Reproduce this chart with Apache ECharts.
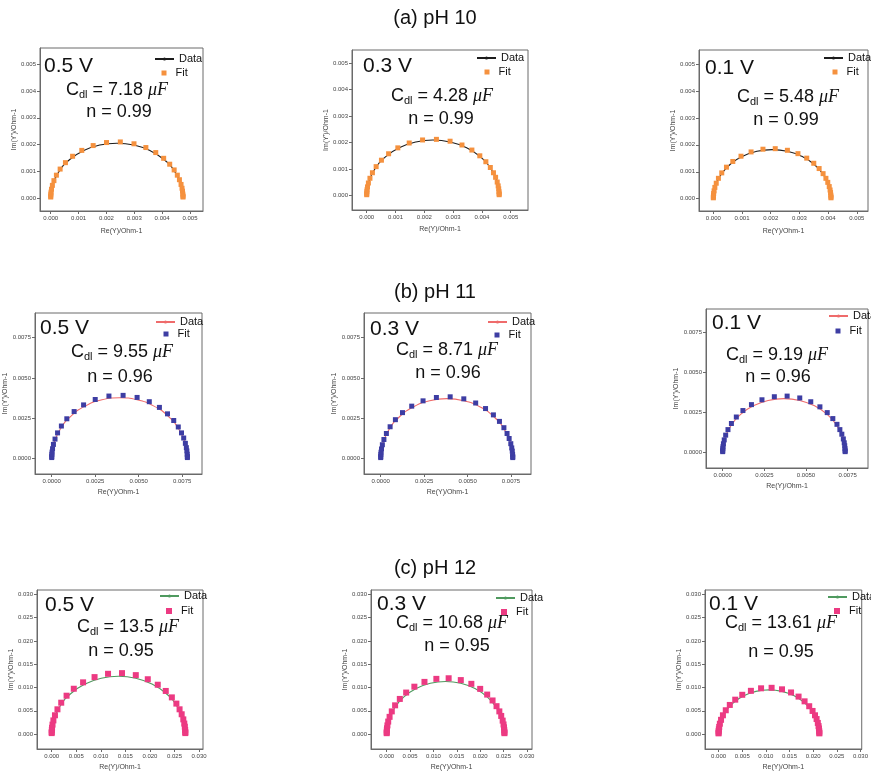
<!DOCTYPE html>
<html><head><meta charset="utf-8">
<script src="https://cdn.jsdelivr.net/npm/echarts@6/dist/echarts.min.js"></script>
<style>html,body{margin:0;padding:0;background:#fff}#c{width:871px;height:772px}</style>
</head><body><div id="c"></div>
<script>
// ---- values, in 10^-3 Ohm^-1 (mS) ----
const a05DataRe = [0, 0.009, 0.081, 0.318, 0.695, 1.188, 1.760, 2.375, 2.990, 3.563, 4.055, 4.432, 4.669, 4.741, 4.750];
const a05DataIm = [0, 0.179, 0.531, 1.025, 1.450, 1.775, 1.980, 2.050, 1.980, 1.775, 1.450, 1.025, 0.531, 0.179, 0];
const a05FitRe = [0.0004, 0.0014, 0.0057, 0.0128, 0.0295, 0.0608, 0.116, 0.205, 0.339, 0.529, 0.786, 1.116, 1.524, 2.004, 2.499, 2.990, 3.416, 3.771, 4.055, 4.272, 4.432, 4.545, 4.621, 4.679, 4.714, 4.732, 4.744, 4.749, 4.750];
const a05FitIm = [0.037, 0.073, 0.147, 0.219, 0.328, 0.473, 0.649, 0.854, 1.082, 1.322, 1.561, 1.781, 1.961, 2.074, 2.097, 2.028, 1.887, 1.699, 1.485, 1.264, 1.050, 0.854, 0.684, 0.508, 0.365, 0.256, 0.147, 0.073, 0.037];

const a03DataRe = [0, 0.009, 0.078, 0.308, 0.673, 1.150, 1.705, 2.300, 2.895, 3.450, 3.927, 4.292, 4.522, 4.591, 4.600];
const a03DataIm = [0, 0.183, 0.543, 1.050, 1.485, 1.819, 2.028, 2.100, 2.028, 1.819, 1.485, 1.050, 0.543, 0.183, 0];
const a03FitRe = [0.0004, 0.0014, 0.0055, 0.0124, 0.0285, 0.0589, 0.113, 0.199, 0.328, 0.512, 0.761, 1.081, 1.476, 1.940, 2.421, 2.895, 3.308, 3.652, 3.927, 4.137, 4.292, 4.401, 4.475, 4.531, 4.565, 4.583, 4.594, 4.599, 4.600];
const a03FitIm = [0.037, 0.074, 0.149, 0.223, 0.333, 0.479, 0.658, 0.866, 1.097, 1.340, 1.583, 1.806, 1.989, 2.104, 2.127, 2.057, 1.914, 1.723, 1.506, 1.282, 1.065, 0.866, 0.694, 0.515, 0.370, 0.260, 0.149, 0.074, 0.037];

const a01DataRe = [0, 0.008, 0.070, 0.275, 0.600, 1.025, 1.519, 2.050, 2.581, 3.075, 3.500, 3.825, 4.030, 4.092, 4.100];
const a01DataIm = [0, 0.159, 0.471, 0.910, 1.287, 1.576, 1.758, 1.820, 1.758, 1.576, 1.287, 0.910, 0.471, 0.159, 0];
const a01FitRe = [0.0003, 0.0012, 0.0049, 0.0111, 0.0254, 0.0525, 0.101, 0.177, 0.293, 0.457, 0.678, 0.964, 1.315, 1.729, 2.157, 2.581, 2.949, 3.255, 3.500, 3.687, 3.825, 3.923, 3.988, 4.039, 4.069, 4.085, 4.095, 4.099, 4.100];
const a01FitIm = [0.033, 0.065, 0.130, 0.194, 0.291, 0.419, 0.575, 0.756, 0.958, 1.170, 1.382, 1.577, 1.736, 1.837, 1.857, 1.797, 1.672, 1.505, 1.315, 1.119, 0.930, 0.756, 0.606, 0.450, 0.323, 0.227, 0.130, 0.065, 0.033];

const b05DataRe = [0, 0.015, 0.133, 0.523, 1.142, 1.950, 2.891, 3.900, 4.909, 5.850, 6.658, 7.277, 7.667, 7.785, 7.800];
const b05DataIm = [0, 0.330, 0.978, 1.890, 2.673, 3.273, 3.651, 3.780, 3.651, 3.273, 2.673, 1.890, 0.978, 0.330, 0];
const b05FitRe = [0.0006, 0.0023, 0.0094, 0.0211, 0.0484, 0.100, 0.191, 0.337, 0.557, 0.869, 1.290, 1.833, 2.502, 3.290, 4.104, 4.909, 5.610, 6.192, 6.658, 7.015, 7.277, 7.463, 7.588, 7.684, 7.741, 7.771, 7.791, 7.798, 7.800];
const b05FitIm = [0.069, 0.137, 0.274, 0.411, 0.615, 0.884, 1.214, 1.598, 2.024, 2.473, 2.920, 3.333, 3.669, 3.882, 3.924, 3.796, 3.532, 3.179, 2.779, 2.365, 1.965, 1.598, 1.280, 0.951, 0.682, 0.479, 0.274, 0.137, 0.069];

const b03DataRe = [0, 0.014, 0.129, 0.509, 1.113, 1.900, 2.817, 3.800, 4.783, 5.700, 6.487, 7.091, 7.471, 7.586, 7.600];
const b03DataIm = [0, 0.324, 0.963, 1.860, 2.630, 3.222, 3.593, 3.720, 3.593, 3.222, 2.630, 1.860, 0.963, 0.324, 0];
const b03FitRe = [0.0006, 0.0023, 0.0091, 0.0205, 0.0471, 0.0973, 0.186, 0.328, 0.543, 0.847, 1.257, 1.786, 2.438, 3.206, 3.999, 4.783, 5.466, 6.034, 6.487, 6.835, 7.091, 7.272, 7.393, 7.487, 7.542, 7.572, 7.591, 7.598, 7.600];
const b03FitIm = [0.067, 0.134, 0.268, 0.401, 0.601, 0.864, 1.187, 1.562, 1.978, 2.417, 2.854, 3.256, 3.585, 3.793, 3.835, 3.709, 3.451, 3.107, 2.715, 2.311, 1.920, 1.562, 1.250, 0.929, 0.667, 0.468, 0.268, 0.134, 0.067];

const b01DataRe = [0, 0.014, 0.125, 0.492, 1.076, 1.838, 2.724, 3.675, 4.626, 5.513, 6.274, 6.858, 7.225, 7.336, 7.350];
const b01DataIm = [0, 0.295, 0.875, 1.690, 2.390, 2.927, 3.265, 3.380, 3.265, 2.927, 2.390, 1.690, 0.875, 0.295, 0];
const b01FitRe = [0.0006, 0.0022, 0.0088, 0.0198, 0.0456, 0.0941, 0.180, 0.318, 0.525, 0.819, 1.216, 1.727, 2.358, 3.100, 3.868, 4.626, 5.286, 5.835, 6.274, 6.610, 6.858, 7.032, 7.150, 7.240, 7.294, 7.323, 7.341, 7.348, 7.350];
const b01FitIm = [0.062, 0.124, 0.247, 0.370, 0.554, 0.797, 1.094, 1.440, 1.823, 2.228, 2.631, 3.002, 3.305, 3.496, 3.535, 3.419, 3.182, 2.864, 2.503, 2.130, 1.770, 1.440, 1.153, 0.856, 0.615, 0.432, 0.247, 0.124, 0.062];

const c05DataRe = [0, 0.052, 0.462, 1.822, 3.982, 6.80, 10.08, 13.60, 17.12, 20.40, 23.22, 25.38, 26.74, 27.15, 27.20];
const c05DataIm = [0, 1.081, 3.209, 6.200, 8.768, 10.738, 11.977, 12.400, 11.977, 10.738, 8.768, 6.200, 3.209, 1.081, 0];
const c05FitRe = [0.002, 0.008, 0.033, 0.073, 0.169, 0.348, 0.666, 1.175, 1.942, 3.030, 4.499, 6.392, 8.726, 11.47, 14.31, 17.12, 19.56, 21.59, 23.22, 24.46, 25.38, 26.03, 26.46, 26.79, 26.99, 27.10, 27.17, 27.19, 27.20];
const c05FitIm = [0.229, 0.457, 0.914, 1.369, 2.049, 2.948, 4.048, 5.328, 6.747, 8.244, 9.735, 11.109, 12.230, 12.939, 13.082, 12.653, 11.774, 10.598, 9.263, 7.884, 6.550, 5.328, 4.265, 3.169, 2.274, 1.597, 0.914, 0.457, 0.229];

const c03DataRe = [0, 0.048, 0.428, 1.688, 3.689, 6.300, 9.339, 12.60, 15.86, 18.90, 21.51, 23.51, 24.77, 25.15, 25.20];
const c03DataIm = [0, 0.985, 2.924, 5.650, 7.990, 9.786, 10.915, 11.300, 10.915, 9.786, 7.990, 5.650, 2.924, 0.985, 0];
const c03FitRe = [0.002, 0.008, 0.030, 0.068, 0.156, 0.323, 0.617, 1.089, 1.799, 2.807, 4.168, 5.922, 8.084, 10.63, 13.26, 15.86, 18.12, 20.01, 21.51, 22.66, 23.51, 24.11, 24.51, 24.82, 25.01, 25.11, 25.17, 25.19, 25.20];
const c03FitIm = [0.210, 0.419, 0.838, 1.254, 1.877, 2.700, 3.708, 4.880, 6.180, 7.552, 8.917, 10.176, 11.203, 11.852, 11.983, 11.591, 10.786, 9.708, 8.485, 7.222, 6.000, 4.880, 3.907, 2.903, 2.083, 1.463, 0.838, 0.419, 0.210];

const c01DataRe = [0, 0.040, 0.362, 1.427, 3.118, 5.325, 7.894, 10.65, 13.41, 15.98, 18.18, 19.87, 20.94, 21.26, 21.30];
const c01DataIm = [0, 0.828, 2.459, 4.750, 6.717, 8.227, 9.176, 9.500, 9.176, 8.227, 6.717, 4.750, 2.459, 0.828, 0];
const c01FitRe = [0.002, 0.006, 0.026, 0.058, 0.132, 0.273, 0.522, 0.920, 1.521, 2.373, 3.523, 5.006, 6.833, 8.984, 11.21, 13.41, 15.32, 16.91, 18.18, 19.16, 19.87, 20.38, 20.72, 20.98, 21.14, 21.22, 21.27, 21.29, 21.30];
const c01FitIm = [0.174, 0.347, 0.695, 1.040, 1.556, 2.239, 3.075, 4.047, 5.124, 6.262, 7.394, 8.438, 9.289, 9.828, 9.936, 9.611, 8.943, 8.050, 7.036, 5.988, 4.975, 4.047, 3.240, 2.407, 1.727, 1.213, 0.695, 0.347, 0.174];

// tick values (Ohm^-1)
const ticksA = [0, 0.001, 0.002, 0.003, 0.004, 0.005];
const ticksB = [0, 0.0025, 0.005, 0.0075];
const ticksC = [0, 0.005, 0.010, 0.015, 0.020, 0.025, 0.030];

const rowTitles = ['(a) pH 10', '(b) pH 11', '(c) pH 12'];
const voltages = ['0.5 V', '0.3 V', '0.1 V'];
const cdlValues = ['7.18', '4.28', '5.48', '9.55', '8.71', '9.19', '13.5', '10.68', '13.61'];
const nValues = ['0.99', '0.99', '0.99', '0.96', '0.96', '0.96', '0.95', '0.95', '0.95'];

const MS = 1e-3; // mS -> Ohm^-1

const panelData = [
  [a05DataRe, a05DataIm, a05FitRe, a05FitIm],
  [a03DataRe, a03DataIm, a03FitRe, a03FitIm],
  [a01DataRe, a01DataIm, a01FitRe, a01FitIm],
  [b05DataRe, b05DataIm, b05FitRe, b05FitIm],
  [b03DataRe, b03DataIm, b03FitRe, b03FitIm],
  [b01DataRe, b01DataIm, b01FitRe, b01FitIm],
  [c05DataRe, c05DataIm, c05FitRe, c05FitIm],
  [c03DataRe, c03DataIm, c03FitRe, c03FitIm],
  [c01DataRe, c01DataIm, c01FitRe, c01FitIm]
];

// ---- layout & style ----
const rowStyle = [
  {ticks: ticksA, dec: 3, line: '#1c1c1c', fit: '#f5913e', fitSize: 5, titleY: 18},
  {ticks: ticksB, dec: 4, line: '#ef6b6b', fit: '#3d3da3', fitSize: 5, titleY: 292},
  {ticks: ticksC, dec: 3, line: '#4f9a5f', fit: '#ec3a82', fitSize: 6, titleY: 568}
];
const layout = [
  {box:[40,48,163,163],  xr:[-0.384e-3,5.467e-3], yr:[-0.486e-3,5.61e-3], yGap:21, xGap:17, v:[44,66],  cdl:[117,90],  n:[119,112], ld:[154,60],  lf:[164,74]},
  {box:[352,50,176,160], xr:[-0.51e-3,5.60e-3],   yr:[-0.54e-3,5.50e-3],  yGap:18, xGap:16, v:[363,66], cdl:[442,96],  n:[441,119], ld:[476,59],  lf:[487,73]},
  {box:[699,50,169,161], xr:[-0.50e-3,5.39e-3],   yr:[-0.457e-3,5.52e-3], yGap:19, xGap:17, v:[705,68], cdl:[788,97],  n:[786,120], ld:[823,59],  lf:[835,73]},
  {box:[35,313,167,161], xr:[-0.96e-3,8.64e-3],   yr:[-0.95e-3,9.03e-3],  yGap:16, xGap:15, v:[40,328],  cdl:[122,352], n:[120,377], ld:[155,323], lf:[166,335]},
  {box:[364,313,167,161],xr:[-0.96e-3,8.65e-3],   yr:[-0.95e-3,9.03e-3],  yGap:20, xGap:15, v:[370,329], cdl:[447,350], n:[448,373], ld:[487,323], lf:[497,336]},
  {box:[706,309,162,159],xr:[-1.0e-3,8.72e-3],    yr:[-0.96e-3,8.98e-3],  yGap:22, xGap:15, v:[712,323], cdl:[777,355], n:[778,377], ld:[828,317], lf:[838,332]},
  {box:[37,590,166,161], xr:[-2.99e-3,30.8e-3],   yr:[-3.18e-3,30.9e-3],  yGap:18, xGap:15, v:[45,605],  cdl:[128,627], n:[121,651], ld:[159,597], lf:[169,612]},
  {box:[371,590,161,161],xr:[-3.36e-3,31.1e-3],   yr:[-3.18e-3,30.9e-3],  yGap:18, xGap:15, v:[377,604], cdl:[452,623], n:[457,646], ld:[495,599], lf:[504,613]},
  {box:[705,590,165,161],xr:[-2.87e-3,30.26e-3],  yr:[-3.18e-3,30.9e-3],  yGap:19, xGap:15, v:[709,604], cdl:[781,623], n:[781,652], ld:[827,598], lf:[837,612]}
];

const F = 'Arial, "Liberation Sans", sans-serif';
const AX = '#6a6a6a';

const grid = [], xAxis = [], yAxis = [], series = [], legend = [], graphic = [];

rowTitles.forEach((t, r) => {
  graphic.push({type:'text', x:435, y:rowStyle[r].titleY, z:100,
    style:{text:t, fontSize:20, fontFamily:F, fill:'#111', align:'center', verticalAlign:'middle', textAlign:'center', textVerticalAlign:'middle'}});
});

layout.forEach((L, i) => {
  const r = Math.floor(i / 3);
  const S = rowStyle[r];
  const id = String(i);
  const [dRe, dIm, fRe, fIm] = panelData[i];
  grid.push({left:L.box[0], top:L.box[1], width:L.box[2], height:L.box[3], show:true, borderColor:AX, borderWidth:1, backgroundColor:'transparent'});
  const fmt = v => v.toFixed(S.dec);
  xAxis.push({type:'value', gridIndex:i, min:L.xr[0], max:L.xr[1],
    name:'Re(Y)/Ohm-1', nameLocation:'middle', nameGap:L.xGap, nameTextStyle:{fontSize:7, color:'#444', fontFamily:F},
    axisLine:{show:true, onZero:false, lineStyle:{color:AX, width:1}},
    axisTick:{show:true, inside:false, length:3, customValues:S.ticks, lineStyle:{color:AX}},
    axisLabel:{fontSize:6, color:'#444', margin:4, fontFamily:F, customValues:S.ticks, formatter:fmt},
    splitLine:{show:false}});
  yAxis.push({type:'value', gridIndex:i, min:L.yr[0], max:L.yr[1],
    name:"Im(Y')/Ohm-1", nameLocation:'middle', nameGap:L.yGap, nameTextStyle:{fontSize:7, color:'#444', fontFamily:F},
    axisLine:{show:true, onZero:false, lineStyle:{color:AX, width:1}},
    axisTick:{show:true, inside:false, length:3, customValues:S.ticks, lineStyle:{color:AX}},
    axisLabel:{fontSize:6, color:'#444', margin:4, fontFamily:F, customValues:S.ticks, formatter:fmt},
    splitLine:{show:false}});
  series.push({type:'line', name:'Data '+id, xAxisIndex:i, yAxisIndex:i,
    data:dRe.map((v,k)=>[v*MS, dIm[k]*MS]), smooth:0.5, symbol:'circle', symbolSize:3, showSymbol:false,
    lineStyle:{color:S.line, width:1.1}, itemStyle:{color:S.line}, silent:true, z:2});
  series.push({type:'scatter', name:'Fit '+id, xAxisIndex:i, yAxisIndex:i,
    data:fRe.map((v,k)=>[v*MS, fIm[k]*MS]), symbol:'rect', symbolSize:S.fitSize,
    itemStyle:{color:S.fit, opacity:1}, silent:true, z:3});
  legend.push({left:L.ld[0], top:L.ld[1]-6.5, padding:0, itemWidth:19, itemHeight:4, selectedMode:false,
    data:['Data '+id], formatter:()=>'Data', textStyle:{fontSize:11, color:'#111', fontFamily:F}});
  legend.push({left:L.lf[0]-S.fitSize/2, top:L.lf[1]-6.5, padding:0, itemWidth:S.fitSize, itemHeight:S.fitSize, selectedMode:false,
    data:[{name:'Fit '+id, icon:'rect', itemStyle:{opacity:1}}], formatter:()=>'Fit', textStyle:{fontSize:11, color:'#111', fontFamily:F, padding:[0,0,0,4]}});
  graphic.push({type:'text', x:L.v[0], y:L.v[1], z:100,
    style:{text:voltages[i%3], fontSize:21, fontFamily:F, fill:'#111', align:'left', verticalAlign:'middle', textAlign:'left', textVerticalAlign:'middle'}});
  graphic.push({type:'text', x:L.cdl[0], y:L.cdl[1], z:100,
    style:{text:'{m|C}{s|dl}{m| = '+cdlValues[i]+' }{u|μF}', fill:'#111', align:'center', verticalAlign:'middle', textAlign:'center', textVerticalAlign:'middle',
      rich:{m:{fontSize:18, fontFamily:F, fill:'#111'}, s:{fontSize:11, fontFamily:F, fill:'#111', padding:[10,0,0,0]}, u:{fontSize:18, fontFamily:'"Liberation Serif", "DejaVu Serif", serif', fontStyle:'italic', fill:'#111'}}}});
  graphic.push({type:'text', x:L.n[0], y:L.n[1], z:100,
    style:{text:'n = '+nValues[i], fontSize:18, fontFamily:F, fill:'#111', align:'center', verticalAlign:'middle', textAlign:'center', textVerticalAlign:'middle'}});
});

const chart = echarts.init(document.getElementById('c'), null, {renderer:'canvas'});
chart.setOption({animation:false, backgroundColor:'#fff', grid, xAxis, yAxis, series, legend, graphic});
</script>
</body></html>
